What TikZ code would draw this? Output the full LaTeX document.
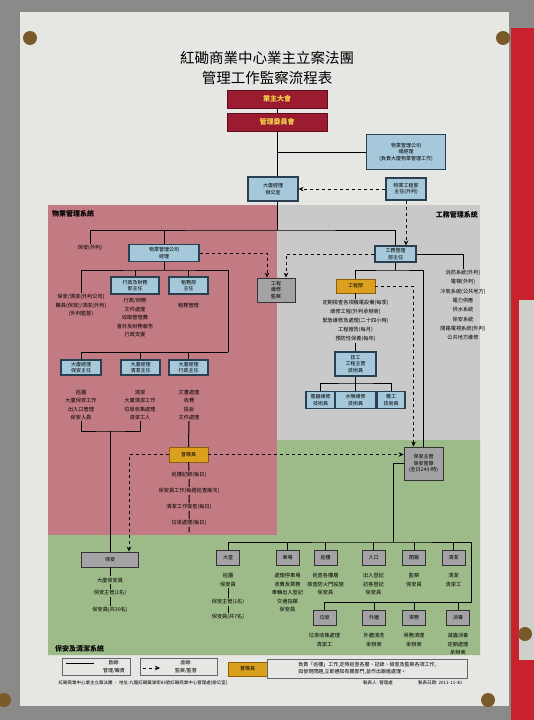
\documentclass[tikz,border=0pt]{standalone}
\usepackage{fontspec}
\setmainfont{Noto Sans CJK TC}
\usetikzlibrary{arrows.meta, positioning, calc}

\definecolor{wall}{HTML}{8A8A88}
\definecolor{paper}{HTML}{E6E6E3}
\definecolor{board}{HTML}{C8232D}
\definecolor{pinbrown}{HTML}{7A5A2A}
\definecolor{regred}{HTML}{C27B83}
\definecolor{reggray}{HTML}{C9C9C9}
\definecolor{reggreen}{HTML}{9DBB88}
\definecolor{boxred}{HTML}{9B1C31}
\definecolor{boxredd}{HTML}{5E0E1C}
\definecolor{boxyel}{HTML}{F5D34A}
\definecolor{boxblue}{HTML}{A5C9DA}
\definecolor{bluedark}{HTML}{2A4050}
\definecolor{boxgray}{HTML}{A3A3A6}
\definecolor{boxyellow}{HTML}{DBA11E}
\definecolor{yeldark}{HTML}{8A6010}

\newcommand{\ftiny}{\fontsize{5}{6.5}\selectfont}

\begin{document}
\begin{tikzpicture}[
    x=1pt, y=-1pt,
    redbox/.style = {rectangle, draw=boxredd, fill=boxred, text=boxyel, minimum width=100pt, minimum height=18pt, font=\bfseries\fontsize{7}{8}\selectfont},
    bluebox/.style = {rectangle, draw=bluedark, fill=boxblue, line width=1.1pt, align=center, font=\ftiny, inner sep=1pt},
    graybox/.style = {rectangle, draw=black!80, fill=boxgray, line width=0.8pt, align=center, font=\ftiny, inner sep=1pt},
    yelbox/.style = {rectangle, draw=yeldark, fill=boxyellow, align=center, font=\ftiny, inner sep=1pt},
    note/.style = {align=center, font=\fontsize{5.2}{8.5}\selectfont, inner sep=1pt},
    region/.style = {font=\bfseries\fontsize{7}{8}\selectfont, inner sep=0pt},
    link/.style = {draw=black, line width=1pt},
    arrow/.style = {draw=black, dashed, line width=0.8pt, -{Stealth[length=5pt,width=4.5pt]}}
]
\useasboundingbox (0,0) rectangle (534,720);

% photo background
\fill[wall] (0,0) rectangle (534,720);
\fill[board] (511,28) rectangle (534,720);
\fill[paper!90!black] (519,300) rectangle (534,660);
\fill[paper] (20,12) rectangle (509,706);
\foreach \p in {(30,38),(503,38),(488,700),(4,700),(525,634)}
    \fill[pinbrown] \p circle (7);

% system areas
\fill[regred] (48,205) rectangle (277,535);
\fill[reggray] (277,205) rectangle (480,440);
\fill[reggreen] (48,535) -- (277,535) -- (277,440) -- (480,440) -- (480,655) -- (48,655) -- cycle;

\node (lblpm) [region, anchor=west] at (52,214) {物業管理系統};
\node (lblwk) [region, anchor=east] at (478,215) {工務管理系統};
\node (lblsc) [region, anchor=west] at (55,649) {保安及清潔系統};

% title and top
\node (title) [font=\fontsize{14.5}{20}\selectfont, align=center] at (267,68) {紅磡商業中心業主立案法團\\管理工作監察流程表};
\node (ga) [redbox] at (277,99) {業主大會};
\node (mc) [redbox] at (277,122) {管理委員會};
\node (pmc) [bluebox, minimum width=79pt, minimum height=35pt] at (406,152) {物業管理公司\\總經理\\(負責大廈物業管理工作)};
\node (bm) [bluebox, minimum width=50pt, minimum height=24pt] at (273,189) {大廈經理\\辦公室};
\node (eng) [bluebox, minimum width=40pt, minimum height=22pt] at (406,189) {物業工程部\\主任(外判)};

% property management
\node (secout) [note, anchor=north] at (90,244) {保安(外判)};
\node (pm) [bluebox, minimum width=70pt, minimum height=17pt] at (164,253) {物業管理公司\\經理};
\node (af) [bluebox, minimum width=48pt, minimum height=17pt] at (135,285.5) {行政及財務\\部主任};
\node (ls) [bluebox, minimum width=39pt, minimum height=17pt] at (188.5,285.5) {租務部\\主任};
\node (n1) [note, anchor=north] at (81,293) {保安/清潔(外判公司)\\職員(保安)/清潔(外判)\\(外判監督)};
\node (afnote) [note, anchor=north] at (135,297) {行政/財務\\文件處理\\收取管理費\\會計及財務報告\\行政支援};
\node (lsnote) [note, anchor=north] at (188.5,302) {租務管理};
\node (wm) [graybox, minimum width=38pt, minimum height=24pt] at (276,290) {工程\\維修\\監察};

\node (r1) [bluebox, minimum width=40pt, minimum height=15pt] at (81,367.5) {大廈經理\\保安主任};
\node (r2) [bluebox, minimum width=39pt, minimum height=15pt] at (140.5,367.5) {大廈經理\\清潔主任};
\node (r3) [bluebox, minimum width=39pt, minimum height=15pt] at (188.5,367.5) {大廈經理\\行政主任};
\node (r1note) [note, anchor=north, font=\fontsize{5.2}{8.3}\selectfont] at (81,389) {巡邏\\大廈保安工作\\出入口管理\\保安人員};
\node (r2note) [note, anchor=north, font=\fontsize{5.2}{8.3}\selectfont] at (140,389) {清潔\\大廈清潔工作\\垃圾收集處理\\清潔工人};
\node (r3note) [note, anchor=north, font=\fontsize{5.2}{8.3}\selectfont] at (189,389) {文書處理\\收費\\投訴\\文件處理};

\node (sup) [yelbox, minimum width=39pt, minimum height=15pt] at (188.5,454.5) {督導員};
\node (s1) [note] at (189,475) {巡樓記錄(每日)};
\node (s2) [note] at (189,491) {保安員工作(每週巡查兩次)};
\node (s3) [note] at (189,507) {清潔工作檢查(每日)};
\node (s4) [note] at (189,523) {垃圾處理(每日)};
\coordinate (send) at (189,532);

% works management
\node (wks) [bluebox, minimum width=41pt, minimum height=16pt] at (395.5,254) {工務管理\\部主任};
\node (wklist) [note, anchor=north, font=\fontsize{5.2}{9.3}\selectfont] at (463,269) {消防系統(外判)\\電梯(外判)\\冷氣系統(公共地方)\\電力供應\\供水系統\\保安系統\\閉路電視系統(外判)\\公共地方維修};
\node (ed) [yelbox, minimum width=39pt, minimum height=14pt] at (355.5,286) {工程部};
\node (ednote) [note, anchor=north, font=\fontsize{5.2}{9}\selectfont] at (355.5,299) {定期檢查各項機電設備(每季)\\維修工程(外判承辦商)\\緊急維修及處理(二十四小時)\\工程報告(每月)\\預防性保養(每年)};
\node (tech) [bluebox, minimum width=41pt, minimum height=24pt] at (355.5,364) {技工\\工程主管\\技術員};
\node (t1) [bluebox, minimum width=29pt, minimum height=17pt] at (320.5,400) {電器維修\\技術員};
\node (t2) [bluebox, minimum width=41pt, minimum height=17pt] at (355.5,400) {水喉維修\\技術員};
\node (t3) [bluebox, minimum width=28pt, minimum height=17pt] at (391,400) {雜工\\技術員};

% security and cleaning
\node (grd) [graybox, minimum width=39pt, minimum height=33pt] at (423.5,463.5) {保安主管\\保安督導\\(全日24小時)};
\node (sec) [graybox, minimum width=57pt, minimum height=15pt] at (110,559.5) {保安};
\node (se1) [note] at (110,580) {大廈保安員};
\node (se2) [note] at (110,593) {保安主管(1名)};
\node (se3) [note] at (110,610) {保安員(共30名)};

\node (b1) [graybox, minimum width=23pt, minimum height=15pt] at (228,558) {大堂};
\node (b2) [graybox, minimum width=23pt, minimum height=15pt] at (287.5,558) {車場};
\node (b3) [graybox, minimum width=23pt, minimum height=15pt] at (325.5,558) {巡樓};
\node (b4) [graybox, minimum width=23pt, minimum height=15pt] at (373.5,558) {入口};
\node (b5) [graybox, minimum width=23pt, minimum height=15pt] at (414,558) {閉路};
\node (b6) [graybox, minimum width=23pt, minimum height=15pt] at (453.5,558) {清潔};
\node (b1n1) [note, anchor=north] at (228,572) {巡邏\\保安員};
\node (b1n2) [note] at (228,602) {保安主管(1名)};
\node (b1n3) [note] at (228,617) {保安員(共7名)};
\node (b2note) [note, anchor=north] at (287.5,572) {處理停車場\\收費及票務\\車輛出入登記\\交通指揮\\保安員};
\node (b3note) [note, anchor=north] at (325.5,572) {巡查各樓層\\檢查防火門設施\\保安員};
\node (b4note) [note, anchor=north] at (373.5,572) {出入登記\\訪客登記\\保安員};
\node (b5note) [note, anchor=north] at (414,572) {監察\\保安員};
\node (b6note) [note, anchor=north] at (453.5,572) {清潔\\清潔工};

\node (c1) [graybox, minimum width=23pt, minimum height=15pt] at (324.5,617.5) {垃圾};
\node (c2) [graybox, minimum width=23pt, minimum height=15pt] at (374,617.5) {外牆};
\node (c3) [graybox, minimum width=23pt, minimum height=15pt] at (414,617.5) {渠務};
\node (c4) [graybox, minimum width=23pt, minimum height=15pt] at (458,617.5) {消毒};
\node (c1note) [note, anchor=north] at (324.5,632) {垃圾收集處理\\清潔工};
\node (c2note) [note, anchor=north] at (374,632) {外牆清洗\\承辦商};
\node (c3note) [note, anchor=north] at (414,632) {渠務清理\\承辦商};
\node (c4note) [note, anchor=north] at (458,632) {滅蟲消毒\\定期處理\\承辦商};

% junctions
\coordinate (jtop) at (277,230);
\coordinate (jr1) at (164,270);
\coordinate (jr2) at (228,352);
\coordinate (jb) at (110,431);
\coordinate (jw) at (395.5,270);
\coordinate (jtech) at (355.5,383);
\coordinate (jg) at (393,542);
\coordinate (jc) at (471,602);

% connectors
\draw [link] (ga) -- (mc);
\draw [link] (mc.south) -- (mc.south |- bm.north);
\draw [link] (mc.south |- pmc.west) -- (pmc.west);
\draw [link] (mc.south |- bm.south) -- (jtop);
\draw [arrow] (eng.west) -- (bm.east);
\draw [arrow] (eng.south) -- (eng.south |- wks.north);
\draw [link] (secout.north) |- (jtop) -| (wks.north);
\draw [link] (pm.north) -- (pm.north |- jtop);
\draw [link] (pm.south) -- (jr1);
\draw [link] (n1.north) |- (jr1) -| (jr2);
\draw [link] (af.north) -- (af.north |- jr1);
\draw [link] (ls.north) -- (ls.north |- jr1);
\draw [arrow] (pm.east) -| ([xshift=-9pt]wm.north);
\draw [arrow] (wks.west) -| ([xshift=10pt]wm.north);
\draw [link] (r1.north) |- (jr2);
\draw [link] (r2.north) -- (r2.north |- jr2);
\draw [link] (r3.north) -- (r3.north |- jr2);
\draw [link] (r1note.south) |- (jb) -| (r2note.south);
\draw [link] (jb) -- (sec.north);
\draw [link] (r3note.south) -- (sup.north);
\draw [arrow] (sup.west) -| ([xshift=19pt]sec.north);
\draw [arrow] (sup.east) -- (sup.east -| grd.west);
\draw [link] (sup) -- (s1) -- (s2) -- (s3) -- (s4) -- (send);

\draw [link] (wks.south) -- (jw);
\draw [link] (ed.north) |- (jw) -| (grd.north);
\draw [link] (wks.east) -| (wklist.north);
\draw [link] (ed.south) -- (ednote.north);
\draw [link] (ednote.south) -- (tech.north);
\draw [link] (tech.south) -- (t2.north);
\draw [link] (t1.north) |- (jtech) -| (t3.north);
\draw [arrow] (ed.east) -| ([xshift=-10pt]grd.north);

\draw [link] (sec) -- (se1) -- (se2) -- (se3);
\draw [link] (grd.west) -| (jg);
\draw [link] (b1.north) |- (jg) -| (jc) -| (c1.north);
\draw [link] (b2.north) -- (b2.north |- jg);
\draw [link] (b3.north) -- (b3.north |- jg);
\draw [link] (b4.north) -- (b4.north |- jg);
\draw [link] (b5.north) -- (b5.north |- jg);
\draw [link] (b6.north) -- (b6.north |- jg);
\draw [link] (c2.north) -- (c2.north |- jc);
\draw [link] (c3.north) -- (c3.north |- jc);
\draw [link] (c4.north) -- (c4.north |- jc);
\draw [link] (b1n1) -- (b1n2) -- (b1n3);

% legend
\node (leg1) [draw=black!60, minimum width=68pt, minimum height=17pt] at (96,666.5) {};
\draw [link] (66,663) -- (94,663);
\node (leg1t) [note, font=\fontsize{5}{7.5}\selectfont] at (114,667) {直線:\\管理/職責};
\node (leg2) [draw=black!60, minimum width=77pt, minimum height=17pt] at (178.5,666.5) {};
\draw [arrow] (143,668) -- (160,668);
\node (leg2t) [note, font=\fontsize{5}{7.5}\selectfont] at (186,667) {虛線:\\監察/監督};
\node (leg3) [yelbox, minimum width=39pt, minimum height=14pt] at (247.5,669) {督導員};
\node (leg3t) [draw=black!60, anchor=west, align=left, font=\fontsize{5}{7.5}\selectfont, minimum width=200pt, minimum height=19pt, inner sep=2pt] at (267,668.5) {負責「巡樓」工作,定時巡查各層、記錄、檢查及監察各項工作,\\如發現問題,立即通知有關部門,並作出跟進處理。};

% footer
\node (foot) [anchor=west, font=\fontsize{4.5}{5}\selectfont] at (55,683) {紅磡商業中心業主立案法團 · 地址:九龍紅磡蕪湖街83號紅磡商業中心管理處(辦公室)};
\node (maker) [font=\fontsize{4.5}{5}\selectfont] at (378,683) {製表人: 管理處};
\node (date) [font=\fontsize{4.5}{5}\selectfont] at (440,683) {製表日期: 2011-11-30};

\end{tikzpicture}
\end{document}
